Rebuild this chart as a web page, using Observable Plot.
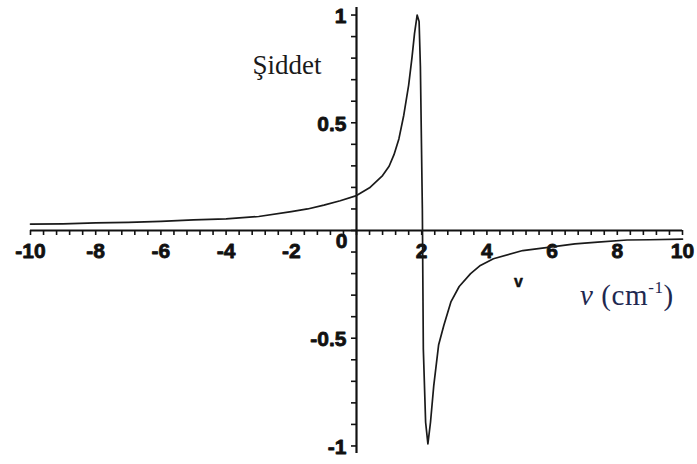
<!DOCTYPE html>
<html>
<head>
<meta charset="utf-8">
<script src="https://cdn.jsdelivr.net/npm/d3@7"></script>
<script src="https://cdn.jsdelivr.net/npm/@observablehq/plot@0.6"></script>
<style>
  body { margin: 0; background: #fff; }
  #chart { position: relative; width: 697px; height: 464px; }
  #chart svg { display: block; }
  g[aria-label="tick-labels"] text { letter-spacing: 1.2px; }
  g[aria-label="y-title"] text { letter-spacing: 1.6px; }
  .x-title {
    position: absolute; left: 580px; top: 281px;
    font-family: "Liberation Serif", serif; font-size: 29px;
    color: #1e2850; white-space: nowrap; line-height: 1; letter-spacing: 0.6px;
  }
  .x-title i { font-style: italic; }
  .x-title sup { font-size: 17px; vertical-align: 12px; line-height: 0; }
</style>
</head>
<body>
<div id="chart"></div>
<script>
// Dispersion-shaped signal: intensity vs wavenumber ν (cm⁻¹)
const nu = [-10, -9, -8, -7, -6, -5, -4, -3, -2, -1.5, -1, -0.5, 0, 0.4, 0.8, 1.0, 1.15, 1.3,
  1.45, 1.6, 1.7, 1.78, 1.86, 1.92, 1.96, 2.02, 2.05, 2.12, 2.19, 2.27, 2.37, 2.52,
  2.68, 2.9, 3.15, 3.5, 3.8, 4.2, 5.1, 6, 6.7, 7.4, 8.3, 9, 10];
const intensity = [0.030, 0.031, 0.035, 0.038, 0.042, 0.049, 0.054, 0.065, 0.088, 0.100,
  0.118, 0.138, 0.162, 0.198, 0.255, 0.298, 0.352, 0.425, 0.535, 0.675, 0.800, 0.915, 1.0,
  0.970, 0.760, 0.100, -0.550, -0.890, -0.990, -0.890, -0.720, -0.530, -0.440, -0.330,
  -0.260, -0.200, -0.162, -0.131, -0.093, -0.076, -0.062, -0.054, -0.044, -0.043, -0.040];

// Axis tick labels
const xTickValues = [-10, -8, -6, -4, -2, 2, 4, 6, 8, 10];
const xTickLabels = ["-10", "-8", "-6", "-4", "-2", "2", "4", "6", "8", "10"];
const yTickValues = [1, 0.5, -0.5, -1];
const yTickLabels = ["1", "0.5", "-0.5", "-1"];
const originLabel = "0";
const yTitle = "Şiddet";
const xVarLabel = "v";

const points = nu.map((x, i) => ({x, y: intensity[i]}));

const W = 697, H = 464;
const mt = 7, mb = 11, ml = 30, mr = 15;
const xDomain = [-10, 10];
const yDomain = [-1.035, 1.035];
const pxY = (yDomain[1] - yDomain[0]) / (H - mt - mb);
const pxX = (xDomain[1] - xDomain[0]) / (W - ml - mr);
const tickLen = 5;

const xMinor = d3.range(-10, 10.0001, 0.4);
const yMinor = d3.range(-1, 1.0001, 0.1);

const ink = "#111";
const labelFont = {
  fontFamily: "Liberation Sans, Arial, sans-serif", fontWeight: "bold", fontSize: 21,
  fill: ink, stroke: ink, strokeWidth: 0.8
};

const chart = Plot.plot({
  width: W, height: H,
  marginTop: mt, marginBottom: mb, marginLeft: ml, marginRight: mr,
  x: {domain: xDomain, axis: null},
  y: {domain: yDomain, axis: null},
  marks: [
    // axes through the origin
    Plot.ruleY([0], {x1: xDomain[0], x2: xDomain[1], stroke: ink, strokeWidth: 2.2}),
    Plot.ruleX([0], {y1: yDomain[0], y2: yDomain[1], stroke: ink, strokeWidth: 2.2}),
    // ticks: below the x axis, left of the y axis
    Plot.ruleX(xMinor, {x: d => d, y1: 0, y2: -tickLen * pxY, stroke: ink, strokeWidth: 1.6}),
    Plot.ruleY(yMinor, {y: d => d, x1: 0, x2: -tickLen * pxX, stroke: ink, strokeWidth: 1.6}),
    // tick labels
    Plot.text(xTickValues, {x: d => d, y: 0, text: (d, i) => xTickLabels[i], dy: 21, ...labelFont, ariaLabel: "tick-labels"}),
    Plot.text(yTickValues, {x: 0, y: d => d, text: (d, i) => yTickLabels[i], dx: -10, dy: 1, textAnchor: "end", ...labelFont, ariaLabel: "tick-labels"}),
    Plot.text([originLabel], {x: 0, y: 0, text: d => d, dx: -15, dy: 11, ...labelFont, ariaLabel: "tick-labels"}),
    Plot.text([xVarLabel], {x: 0, y: 0, text: d => d, dx: 518 - 356, dy: 51,
      fontFamily: "Liberation Sans, Arial, sans-serif", fontWeight: "bold", fontSize: 16, fill: ink, stroke: ink, strokeWidth: 0.5}),
    // y title
    Plot.text([yTitle], {frameAnchor: "top-left", dx: 252 - ml, dy: 54 - mt, textAnchor: "start", text: d => d,
      fontFamily: "Liberation Serif, Times New Roman, serif", fontSize: 27, fill: "#1a1a1a", ariaLabel: "y-title"}),
    // signal
    Plot.line(points, {x: "x", y: "y", stroke: "#1a1a1a", strokeWidth: 1.7})
  ]
});

const host = document.getElementById("chart");
host.appendChild(chart);
const xt = document.createElement("div");
xt.className = "x-title";
xt.innerHTML = "<i>ν</i> (cm<sup>-1</sup>)";
host.appendChild(xt);
</script>
</body>
</html>
